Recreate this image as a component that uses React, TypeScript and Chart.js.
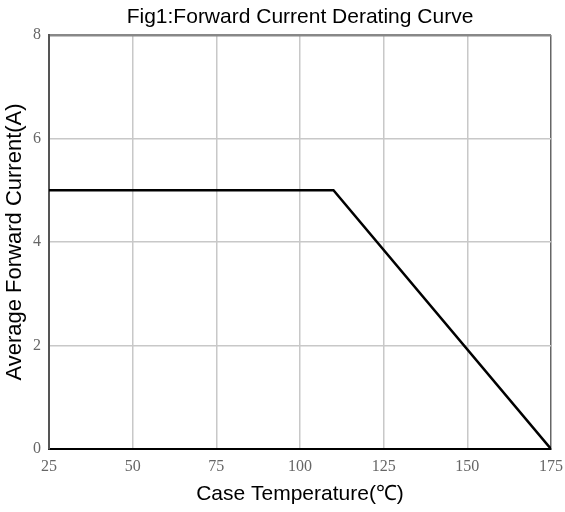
import React, { useEffect, useRef } from "react";
import { Chart, registerables } from "chart.js";

Chart.register(...registerables);

const chartTitle = "Fig1:Forward Current Derating Curve";
const xAxisTitle = "Case Temperature(℃)";
const yAxisTitle = "Average Forward Current(A)";
const temperatures = [25, 110, 175];
const currents = [5, 5, 0];
const xMin = 25;
const xMax = 175;
const xStep = 25;
const yMin = 0;
const yMax = 8;
const yStep = 2;

const titlePlugin = {
  id: "centeredTitle",
  afterDraw(chart: any) {
    const { ctx, chartArea } = chart;
    ctx.save();
    ctx.fillStyle = "#000000";
    ctx.font = "21px 'Liberation Sans', Arial, sans-serif";
    ctx.textAlign = "center";
    ctx.textBaseline = "middle";
    ctx.fillText(chartTitle, (chartArea.left + chartArea.right) / 2, 17);
    ctx.restore();
  },
};

export default function App() {
  const ref = useRef<HTMLCanvasElement | null>(null);

  useEffect(() => {
    document.body.style.margin = "0";
    const canvas = ref.current;
    if (!canvas) return;
    const chart = new Chart(canvas, {
      type: "line",
      data: {
        datasets: [
          {
            label: "Derating",
            data: temperatures.map((t, i) => ({ x: t, y: currents[i] })),
            borderColor: "#000000",
            borderWidth: 2.5,
            pointRadius: 0,
            fill: false,
            tension: 0,
          },
        ],
      },
      options: {
        animation: false,
        responsive: false,
        maintainAspectRatio: false,
        layout: { padding: { left: 0, right: 14, top: 35, bottom: 0 } },
        plugins: {
          legend: { display: false },
          tooltip: { enabled: false },
          title: { display: false },
        },
        scales: {
          x: {
            type: "linear",
            min: xMin,
            max: xMax,
            afterFit: (scale: any) => {
              scale.height = 63;
              scale.paddingLeft = 0;
              scale.paddingRight = 0;
            },
            ticks: {
              stepSize: xStep,
              color: "#666666",
              padding: 8,
              font: { family: "'Liberation Serif', 'DejaVu Serif', serif", size: 16 },
            },
            grid: {
              drawTicks: false,
              color: (ctx: any) => (ctx.tick && ctx.tick.value === xMax ? "#666666" : "#c8c8c8"),
              lineWidth: 1.5,
            },
            border: { display: true, color: "#000000", width: 2 },
            title: {
              display: true,
              text: xAxisTitle,
              color: "#000000",
              font: { family: "'Liberation Sans', Arial, sans-serif", size: 21 },
              padding: { top: 0, bottom: 5 },
            },
          },
          y: {
            type: "linear",
            min: yMin,
            max: yMax,
            afterFit: (scale: any) => {
              scale.width = 49;
              scale.paddingTop = 0;
              scale.paddingBottom = 0;
            },
            ticks: {
              stepSize: yStep,
              color: "#666666",
              padding: 8,
              font: { family: "'Liberation Serif', 'DejaVu Serif', serif", size: 16 },
            },
            grid: {
              drawTicks: false,
              color: (ctx: any) => (ctx.tick && ctx.tick.value === yMax ? "#888888" : "#c8c8c8"),
              lineWidth: (ctx: any) => (ctx.tick && ctx.tick.value === yMax ? 2.5 : 1.5),
            },
            border: { display: true, color: "#555555", width: 2 },
            title: {
              display: true,
              text: yAxisTitle,
              color: "#000000",
              font: { family: "'Liberation Sans', Arial, sans-serif", size: 22 },
              padding: { top: 2, bottom: 0 },
            },
          },
        },
      },
      plugins: [titlePlugin],
    });
    return () => chart.destroy();
  }, []);

  return <canvas ref={ref} width={565} height={512} style={{ display: "block" }} />;
}
